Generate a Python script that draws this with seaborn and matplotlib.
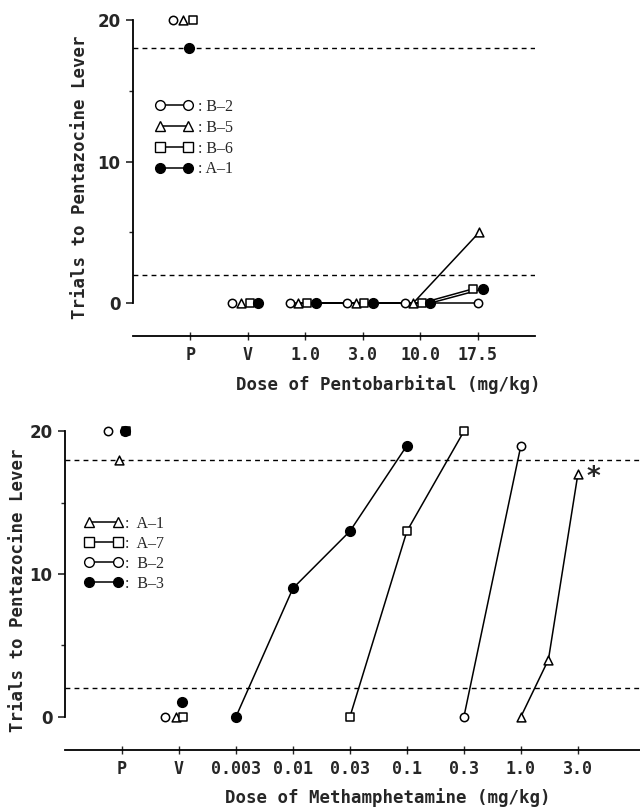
import numpy as np
import pandas as pd
import matplotlib
matplotlib.use("Agg")
import matplotlib.pyplot as plt
import seaborn as sns
from matplotlib.lines import Line2D

sns.set_style("ticks")
plt.rcParams["font.family"] = ["DejaVu Sans"]

# ---------------- data: top panel (pentobarbital) ----------------
top_doses = ["P", "V", "1.0", "3.0", "10.0", "17.5"]
top_series = ["B-2", "B-5", "B-6", "A-1"]
top_B2 = [20, 0, 0, 0, 0, 0]
top_B5 = [20, 0, 0, 0, 0, 5]
top_B6 = [20, 0, 0, 0, 0, 1]
top_A1 = [18, 0, 0, 0, 0, 1]
top_values = [top_B2, top_B5, top_B6, top_A1]

# ---------------- data: bottom panel (methamphetamine) ----------------
bot_doses = ["P", "V", "0.003", "0.01", "0.03", "0.1", "0.3", "1.0", "3.0"]
bot_series = ["A-1", "A-7", "B-2", "B-3"]
bot_ctrl = {  # values at P and V
    "A-1": [18, 0],
    "A-7": [20, 0],
    "B-2": [20, 0],
    "B-3": [20, 1],
}
bot_dose = {
    "A-1": [1.0, 1.7, 3.0],
    "A-7": [0.03, 0.1, 0.3],
    "B-2": [0.3, 1.0],
    "B-3": [0.003, 0.01, 0.03, 0.1],
}
bot_val = {
    "A-1": [0, 4, 17],
    "A-7": [0, 13, 20],
    "B-2": [0, 19],
    "B-3": [0, 9, 13, 19],
}
criterion = [18, 2]

# ---------------- styles ----------------
top_style = {
    "B-2": dict(marker="o", face="white"),
    "B-5": dict(marker="^", face="white"),
    "B-6": dict(marker="s", face="white"),
    "A-1": dict(marker="o", face="black"),
}
bot_style = {
    "A-1": dict(marker="^", face="white"),
    "A-7": dict(marker="s", face="white"),
    "B-2": dict(marker="o", face="white"),
    "B-3": dict(marker="o", face="black"),
}


def msize(marker, face):
    if marker == "o":
        return 48 if face == "black" else 36
    if marker == "^":
        return 40
    return 30


# small horizontal offsets so overlapping symbols stay visible
top_off_first = {"B-2": -0.3, "B-5": -0.13, "B-6": 0.04, "A-1": -0.03}
top_off_cluster = {"B-2": -0.27, "B-5": -0.12, "B-6": 0.03, "A-1": 0.18}
top_off_last = {"B-2": 0.0, "B-5": 0.03, "B-6": -0.08, "A-1": 0.1}
bot_off_cluster = {"A-1": -0.06, "A-7": 0.07, "B-2": -0.24, "B-3": 0.05}

tick_font = dict(family="DejaVu Sans", weight="bold", size=12)
mono_font = dict(family="DejaVu Sans Mono", weight="bold", size=12)
label_font = dict(family="DejaVu Sans Mono", weight="bold", size=12.5)
legend_font = dict(family="Liberation Serif", size=11.5)

fig = plt.figure(figsize=(6.4, 8.08), dpi=100)
ax1 = fig.add_axes([133 / 640, 1 - 336 / 808, 402 / 640, 330.15 / 808])
ax2 = fig.add_axes([65 / 640, 1 - 750 / 808, 575 / 640, 333 / 808])


def style_axes(ax, ticklabels, xmax):
    ax.set_xlim(0, xmax)
    ax.set_ylim(-2.33, 21)
    sns.despine(ax=ax, top=True, right=True)
    ax.spines["left"].set_bounds(0, 20)
    for s in ("left", "bottom"):
        ax.spines[s].set_linewidth(1.3)
        ax.spines[s].set_color("black")
    ax.set_yticks([0, 10, 20])
    ax.set_yticklabels(["0", "10", "20"], fontdict=tick_font)
    ax.set_yticks([5, 15], minor=True)
    ax.tick_params(axis="y", which="major", direction="out", length=5, width=1.2, pad=4)
    ax.tick_params(axis="y", which="minor", direction="out", length=3, width=1.0)
    ax.set_xticks(np.arange(1, len(ticklabels) + 1))
    ax.set_xticklabels(ticklabels, fontdict=mono_font)
    ax.tick_params(axis="x", direction="inout", length=6, width=1.0, pad=4)
    for c in criterion:
        ax.axhline(c, color="black", lw=1.0, ls=(0, (3.5, 3)), zorder=1)
    ax.set_ylabel("Trials to Pentazocine Lever", fontdict=label_font)


def draw_points(ax, df, names, styles):
    for name in names:
        cur = df[(df.series == name) & df.curve]
        sns.lineplot(data=cur, x="x", y="y", ax=ax, color="black", lw=1.1,
                     sort=False, estimator=None, zorder=2, legend=False)
    for name in names:
        sub = df[df.series == name]
        st = styles[name]
        sns.scatterplot(data=sub, x="x", y="y", ax=ax, marker=st["marker"],
                        s=msize(st["marker"], st["face"]), color=st["face"],
                        edgecolor="black", linewidth=1.1, zorder=3, legend=False)


# ---------------- top panel ----------------
rows = []
for name, vals in zip(top_series, top_values):
    for i, (d, v) in enumerate(zip(top_doses, vals)):
        if i == 0:
            off = top_off_first[name]
        elif i == len(top_doses) - 1:
            off = top_off_last[name]
        else:
            off = top_off_cluster[name]
        rows.append(dict(series=name, dose=d, x=i + 1 + off, y=v, curve=i >= 2))
top_df = pd.DataFrame(rows)
draw_points(ax1, top_df, top_series, top_style)

style_axes(ax1, top_doses, 7)
ax1.set_xlabel("Dose of Pentobarbital (mg/kg)", fontdict=label_font)
ax1.xaxis.set_label_coords(0.636, -0.118)
ax1.yaxis.set_label_coords(-0.11, 0.48)

h1 = [Line2D([], [], color="black", lw=1.1, marker=top_style[n]["marker"],
             markerfacecolor=top_style[n]["face"], markeredgecolor="black",
             markersize=7) for n in top_series]
lab1 = [": " + n.replace("-", "\u2013") for n in top_series]
ax1.legend(h1, lab1, loc="upper left", bbox_to_anchor=(0.056, 0.718),
           frameon=False, numpoints=2, handlelength=2.35, handletextpad=0.3,
           borderpad=0, borderaxespad=0, labelspacing=0.3, prop=legend_font)

# ---------------- bottom panel ----------------
labeled = np.array([0.003, 0.01, 0.03, 0.1, 0.3, 1.0, 3.0])
labeled_pos = np.arange(3, 10)


def dose_pos(d):
    return np.interp(np.log10(d), np.log10(labeled), labeled_pos)


rows = []
for name in bot_series:
    for i, v in enumerate(bot_ctrl[name]):
        rows.append(dict(series=name, x=i + 1 + bot_off_cluster[name], y=v, curve=False))
    for d, v in zip(bot_dose[name], bot_val[name]):
        rows.append(dict(series=name, x=float(dose_pos(d)), y=v, curve=True))
bot_df = pd.DataFrame(rows)
draw_points(ax2, bot_df, bot_series, bot_style)

style_axes(ax2, bot_doses, 10.09)
ax2.set_xlabel("Dose of Methamphetamine (mg/kg)", fontdict=label_font)
ax2.xaxis.set_label_coords(0.562, -0.113)
ax2.yaxis.set_label_coords(-0.066, 0.48)

# asterisk next to A-1 at 3.0 mg/kg
ax2.annotate("*", xy=(dose_pos(bot_dose["A-1"][-1]), bot_val["A-1"][-1]),
             xytext=(11, -3), textcoords="offset points", ha="center", va="center",
             fontsize=19, fontweight="bold", family="DejaVu Sans")

h2 = [Line2D([], [], color="black", lw=1.1, marker=bot_style[n]["marker"],
             markerfacecolor=bot_style[n]["face"], markeredgecolor="black",
             markersize=7) for n in bot_series]
lab2 = [":  " + n.replace("-", "\u2013") for n in bot_series]
ax2.legend(h2, lab2, loc="upper left", bbox_to_anchor=(0.033, 0.703),
           frameon=False, numpoints=2, handlelength=2.4, handletextpad=0.15,
           borderpad=0, borderaxespad=0, labelspacing=0.25, prop=legend_font)

fig.savefig("out.png", dpi=100)
